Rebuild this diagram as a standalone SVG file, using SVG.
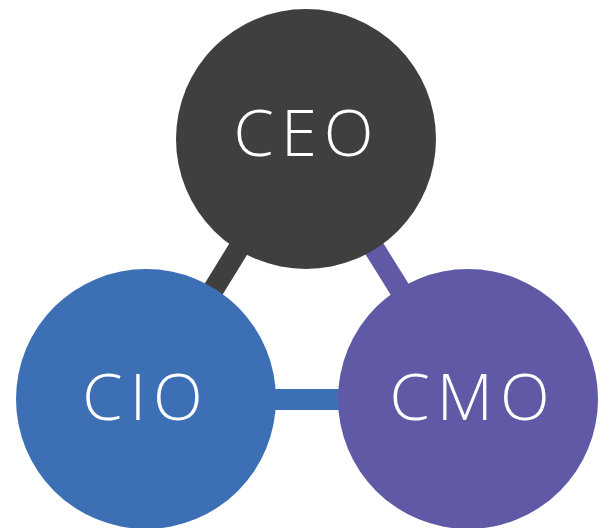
<svg xmlns="http://www.w3.org/2000/svg" width="600" height="528" viewBox="0 0 600 528">
  <style>
    .link { stroke-width: 21; fill: none; }
    .label { font-family: "Open Sans", "Noto Sans", "DejaVu Sans", sans-serif; font-size: 65px; font-weight: 300; fill: #ffffff; letter-spacing: 7px; text-anchor: middle; }
  </style>
  <rect width="600" height="528" fill="#ffffff"/>
  <g id="connectors">
    <line class="link" x1="306" y1="139" x2="146" y2="399" stroke="#3f3f3f"/>
    <line class="link" x1="306" y1="139" x2="468" y2="399" stroke="#5f59a6"/>
    <line class="link" x1="146" y1="399.5" x2="468" y2="399.5" stroke="#3d6fb5"/>
  </g>
  <g id="ceo">
    <circle cx="306" cy="139" r="130" fill="#3f3f3f"/>
    <text class="label" x="307" y="156">CEO</text>
  </g>
  <g id="cio">
    <circle cx="146" cy="399" r="130" fill="#3d6fb5"/>
    <text class="label" x="146" y="420">CIO</text>
  </g>
  <g id="cmo">
    <circle cx="468" cy="399" r="130" fill="#5f59a6"/>
    <text class="label" x="473" y="420">CMO</text>
  </g>
</svg>
